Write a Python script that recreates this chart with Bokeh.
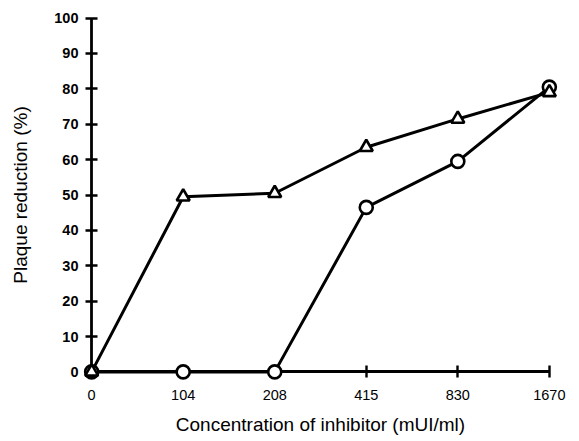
from bokeh.plotting import figure
from bokeh.models import FixedTicker, Range1d, LinearAxis
from bokeh.embed import file_html
from bokeh.resources import INLINE

concentrations = ["0", "104", "208", "415", "830", "1670"]
triangle_series = [0, 49.5, 50.5, 63.5, 71.5, 79]
circle_series = [0, 0, 0, 46.5, 59.5, 80.5]
y_ticks = [0, 10, 20, 30, 40, 50, 60, 70, 80, 90, 100]

xs = list(range(len(concentrations)))
label_map = {i: c for i, c in enumerate(concentrations)}

FONT = "Liberation Sans"

p = figure(width=579, height=441, output_backend="svg", toolbar_location=None,
           x_range=Range1d(-0.1, len(concentrations) - 1 + 0.1),
           y_range=Range1d(-3, 103),
           min_border_left=82, min_border_right=21, min_border_top=7, min_border_bottom=59)
p.outline_line_color = None
p.grid.grid_line_color = None

l1 = p.line(xs, triangle_series, line_color="black", line_width=3)
l2 = p.line(xs, circle_series, line_color="black", line_width=3)
s1 = p.scatter(xs, circle_series, marker="circle", size=13, fill_color="white",
               line_color="black", line_width=2.6)
s2 = p.scatter(xs, triangle_series, marker="triangle", size=13, fill_color="white",
               line_color="black", line_width=2.6)
for r in (l1, l2, s1, s2):
    r.level = "overlay"

# axis lines and ticks placed at the data zero
xa = p.xaxis[0]
xa.fixed_location = 0
xa.bounds = (0, len(concentrations) - 1)
xa.ticker = FixedTicker(ticks=xs)
xa.minor_tick_line_color = None
xa.major_tick_in = 6
xa.major_tick_out = 6
xa.axis_line_width = 2.8
xa.major_tick_line_width = 2.4
xa.major_label_text_font_size = "0px"
xa.major_label_text_color = None

ya = p.yaxis[0]
ya.fixed_location = 0
ya.bounds = (0, 100)
ya.ticker = FixedTicker(ticks=y_ticks)
ya.minor_tick_line_color = None
ya.major_tick_in = 6
ya.major_tick_out = 6
ya.axis_line_width = 2.8
ya.major_tick_line_width = 2.4
ya.major_label_text_font_size = "0px"
ya.major_label_text_color = None

# label-only axes
bx = LinearAxis(ticker=FixedTicker(ticks=xs), major_label_overrides=label_map)
bx.axis_line_color = None
bx.major_tick_line_color = None
bx.minor_tick_line_color = None
bx.major_tick_in = 0
bx.major_tick_out = 0
bx.major_label_standoff = 7
bx.major_label_text_font = FONT
bx.major_label_text_font_size = "14.5px"
bx.major_label_text_color = "black"
bx.axis_label = "Concentration of inhibitor (mUI/ml)"
bx.axis_label_text_font = FONT
bx.axis_label_text_font_style = "normal"
bx.axis_label_text_font_size = "19px"
bx.axis_label_text_color = "black"
bx.axis_label_standoff = 11
p.add_layout(bx, "below")

ly = LinearAxis(ticker=FixedTicker(ticks=y_ticks))
ly.axis_line_color = None
ly.major_tick_line_color = None
ly.minor_tick_line_color = None
ly.major_tick_in = 0
ly.major_tick_out = 0
ly.major_label_standoff = 4
ly.major_label_text_font = FONT
ly.major_label_text_font_style = "bold"
ly.major_label_text_font_size = "14.5px"
ly.major_label_text_color = "black"
ly.axis_label = "Plaque reduction (%)"
ly.axis_label_text_font = FONT
ly.axis_label_text_font_style = "normal"
ly.axis_label_text_font_size = "19px"
ly.axis_label_text_color = "black"
ly.axis_label_standoff = 20
p.add_layout(ly, "left")

open("out.html", "w").write(file_html(p, INLINE))
